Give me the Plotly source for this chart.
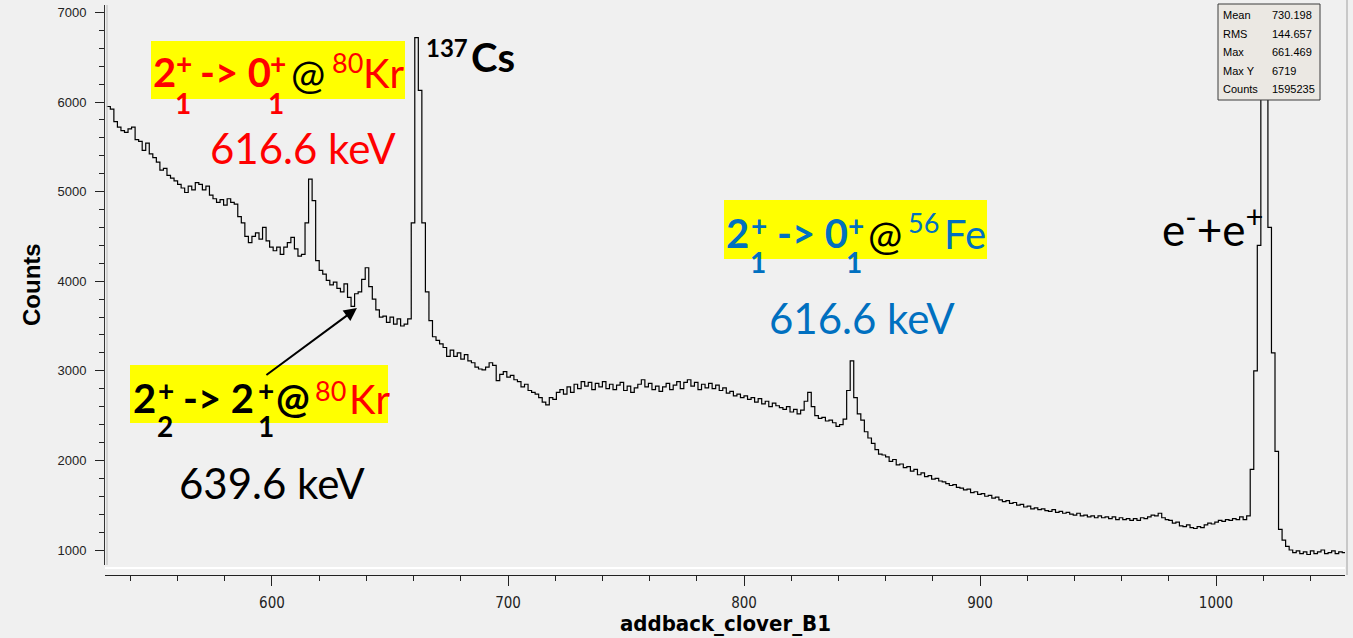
import numpy as np
import plotly.graph_objects as go

# Energy histogram of addback_clover_B1: 1.5 keV bins starting at 530 keV
bin_low = 530.0
bin_width = 1.5
counts = [
    5950, 5920, 5780, 5720, 5680, 5660, 5700, 5720, 5580, 5560,
    5460, 5540, 5420, 5380, 5330, 5240, 5260, 5180, 5150, 5120,
    5080, 5040, 4990, 5060, 5020, 5100, 5080, 5020, 5060, 4960,
    4920, 4880, 4910, 4850, 4920, 4880, 4860, 4720, 4650, 4500,
    4430, 4500, 4540, 4470, 4600, 4450, 4380, 4340, 4380, 4300,
    4380, 4430, 4490, 4360, 4280, 4300, 4650, 5140, 4900, 4230,
    4120, 4080, 4010, 3960, 3990, 3920, 3880, 3970, 3820, 3720,
    3860, 3880, 4020, 4150, 3940, 3800, 3680, 3600, 3610, 3540,
    3600, 3520, 3580, 3500, 3520, 3580, 4650, 6719, 6130, 4650,
    3880, 3560, 3380, 3340, 3300, 3260, 3160, 3230, 3160, 3200,
    3130, 3180, 3110, 3090, 3040, 3020, 3010, 3040, 3090, 3060,
    2890, 2960, 2990, 2930, 2950, 2900, 2880, 2820, 2850, 2780,
    2760, 2740, 2700, 2650, 2620, 2700, 2680, 2760, 2790, 2740,
    2820, 2760, 2850, 2800, 2880, 2830, 2870, 2790, 2860, 2820,
    2880, 2800, 2850, 2790, 2840, 2870, 2780, 2830, 2760, 2810,
    2850, 2900, 2820, 2860, 2790, 2830, 2770, 2820, 2860, 2790,
    2840, 2880, 2800, 2870, 2900, 2830, 2870, 2790, 2850, 2810,
    2860, 2800, 2840, 2780, 2810, 2750, 2770, 2720, 2740, 2700,
    2720, 2680, 2700, 2650, 2690, 2630, 2660, 2600, 2640, 2610,
    2590, 2570, 2600, 2540, 2570, 2520, 2560, 2660, 2760, 2600,
    2500, 2470, 2480, 2440, 2450, 2420, 2380, 2400, 2460, 2780,
    3110, 2700, 2520, 2450, 2320, 2250, 2190, 2120, 2070, 2060,
    2040, 1990, 2010, 1950, 1960, 1920, 1930, 1880, 1900, 1840,
    1860, 1820, 1830, 1790, 1800, 1770, 1760, 1740, 1720, 1730,
    1700, 1690, 1670, 1680, 1640, 1650, 1620, 1630, 1600, 1610,
    1580, 1590, 1560, 1540, 1550, 1520, 1530, 1500, 1510, 1480,
    1490, 1460, 1470, 1450, 1460, 1440, 1430, 1450, 1420, 1430,
    1410, 1420, 1400, 1390, 1410, 1380, 1390, 1370, 1380, 1360,
    1380, 1360, 1370, 1350, 1370, 1340, 1360, 1340, 1350, 1330,
    1350, 1330, 1360, 1350, 1370, 1390, 1380, 1410, 1360, 1340,
    1330, 1300, 1310, 1270, 1260, 1280, 1250, 1240, 1260, 1250,
    1280, 1300, 1290, 1310, 1330, 1320, 1340, 1330, 1350, 1340,
    1370, 1340, 1380, 1900, 3000, 4400, 6300, 6250, 4600, 3200,
    2100, 1230, 1110, 1040, 1000, 970, 990, 960, 980, 950,
    990, 960, 980, 1000, 960, 970, 990, 960, 980, 970, 950,
]

# Statistics panel entries
stat_names = ["Mean", "RMS", "Max", "Max Y", "Counts"]
stat_values = ["730.198", "144.657", "661.469", "6719", "1595235"]

# Peak pointed at by the arrow (keV, counts) and the arrow tail
arrow_peak_energy = 636.0
arrow_peak_counts = 3700
arrow_tail_energy = 597.0
arrow_tail_counts = 2940

x_range = [529.24, 1054.66]
y_range = [832.6, 7082.6]

edges = bin_low + bin_width * np.arange(len(counts) + 1)
steps = counts + [counts[-1]]

fig = go.Figure(
    go.Scatter(
        x=edges, y=steps, mode="lines",
        line=dict(shape="hv", color="black", width=1.2),
        hoverinfo="skip", showlegend=False,
    )
)

W, H = 1353, 638
ML, MR, MT, MB = 105, 8, 5, 63
PW, PH = W - ML - MR, H - MT - MB


def px(x):
    return (x - ML) / PW


def py(y):
    return (H - MB - y) / PH


BG = "#f0f0f0"
RED = "#ff0000"
BLUE = "#0070c0"
YELLOW = "#ffff00"
SLIDE_FONT = "Lato, Carlito, Open Sans, sans-serif"
AXIS_FONT = "Liberation Sans, Arial, sans-serif"
NARROW_FONT = "Liberation Sans Narrow, DejaVu Sans Condensed, Liberation Sans, sans-serif"


def rect(x0, y0, x1, y1, fill, line_color=None, line_width=0):
    fig.add_shape(
        type="rect", xref="paper", yref="paper",
        x0=px(x0), x1=px(x1), y0=py(y1), y1=py(y0),
        fillcolor=fill, layer="above",
        line=dict(color=line_color or fill, width=line_width),
    )


def label(text, x, y, size, color="black", bold=False, xanchor="left",
          family=SLIDE_FONT, angle=0):
    fig.add_annotation(
        text=f"<b>{text}</b>" if bold else text,
        x=px(x), y=py(y), xref="paper", yref="paper",
        xanchor=xanchor, yanchor="middle", showarrow=False, textangle=angle,
        font=dict(family=family, size=size, color=color),
    )


# Highlight boxes behind the transition labels
rect(151, 41, 405, 99, YELLOW)
rect(724, 200, 987, 259, YELLOW)
rect(130, 365, 388, 423, YELLOW)

# 2+_1 -> 0+_1 @ 80Kr
label("2", 151, 72, 40, RED, bold=True)
label("+", 174, 63, 28, RED, bold=True)
label("1", 173, 103, 28, RED, bold=True)
label("-&gt; 0", 198, 72, 40, RED, bold=True)
label("+", 268, 63, 28, RED, bold=True)
label("1", 266, 103, 28, RED, bold=True)
label("@", 289, 73, 41, "black")
label("80", 330, 63, 27, RED)
label("Kr", 361, 73, 40, RED)
label("616.6 keV", 303, 148, 42, RED, xanchor="center")

# 2+_1 -> 0+_1 @ 56Fe
label("2", 724, 233, 40, BLUE, bold=True)
label("+", 749, 225, 28, BLUE, bold=True)
label("1", 748, 262, 28, BLUE, bold=True)
label("-&gt; 0", 775, 233, 40, BLUE, bold=True)
label("+", 846, 225, 28, BLUE, bold=True)
label("1", 844, 262, 28, BLUE, bold=True)
label("@", 866, 234, 41, "black")
label("56", 906, 223, 27, BLUE)
label("Fe", 942, 234, 40, BLUE)
label("616.6 keV", 862, 318, 42, BLUE, xanchor="center")

# 2+_2 -> 2+_1 @ 80Kr
label("2", 131, 398, 40, "black", bold=True)
label("+", 156, 390, 28, "black", bold=True)
label("2", 155, 426, 28, "black", bold=True)
label("-&gt; 2", 181, 398, 40, "black", bold=True)
label("+", 256, 390, 28, "black", bold=True)
label("1", 256, 426, 28, "black", bold=True)
label("@", 274, 398, 40, "black", bold=True)
label("80", 313, 390, 27, RED)
label("Kr", 347, 399, 40, RED)
label("639.6 keV", 272, 483, 42, "black", xanchor="center")

# Other peak labels
label("137", 424, 47, 24, "black", bold=True)
label("Cs", 469, 57, 40, "black", bold=True)
label("e<sup>-</sup>+e<sup>+</sup>", 1212, 226, 44, "black", xanchor="center")

# Arrow to the 639.6 keV line
fig.add_annotation(
    x=arrow_peak_energy, y=arrow_peak_counts, xref="x", yref="y",
    ax=arrow_tail_energy, ay=arrow_tail_counts, axref="x", ayref="y",
    text="", showarrow=True, arrowhead=2, arrowsize=1.3, arrowwidth=2,
    arrowcolor="black",
)

# Statistics panel
rect(1218, 4, 1320, 100, "#ebe8e3", "#3c3c3c", 1)
for i, (name, val) in enumerate(zip(stat_names, stat_values)):
    yy = 15 + i * 18.6
    label(name, 1221, yy, 11, "black", family=AXIS_FONT)
    label(val, 1270, yy, 11, "black", family=AXIS_FONT)

# Frame edges of the canvas
fig.add_shape(type="line", xref="paper", yref="paper", x0=px(105), x1=px(1345),
              y0=py(568), y1=py(568), line=dict(color="white", width=2), layer="above")
fig.add_shape(type="line", xref="paper", yref="paper", x0=px(1347), x1=px(1347),
              y0=py(0), y1=py(575), line=dict(color="#a0a0a0", width=1), layer="above")
fig.add_shape(type="line", xref="paper", yref="paper", x0=px(107), x1=px(107),
              y0=py(5), y1=py(565), line=dict(color="#b8b8b8", width=1), layer="above")

# Axis titles
label("Counts", 31, 285, 24, "black", bold=True, xanchor="center",
      family=AXIS_FONT, angle=-90)
label("addback_clover_B1", 725, 623, 22, "black", bold=True, xanchor="center",
      family=NARROW_FONT)

fig.update_layout(
    width=W, height=H,
    margin=dict(l=ML, r=MR, t=MT, b=MB, pad=0),
    paper_bgcolor=BG, plot_bgcolor=BG,
    showlegend=False,
    xaxis=dict(
        range=x_range, domain=[0, 1], anchor="free", position=0,
        dtick=100, tick0=0, ticks="outside", ticklen=10, tickcolor="#222",
        minor=dict(dtick=20, tick0=0, ticks="outside", ticklen=5, tickcolor="#222"),
        showline=True, linecolor="#222", linewidth=1,
        showgrid=False, zeroline=False, ticklabelstandoff=4,
        tickfont=dict(family=NARROW_FONT, size=15, color="#222"),
    ),
    yaxis=dict(
        range=y_range, domain=[10 / PH, 1],
        dtick=1000, tick0=0, ticks="outside", ticklen=9, tickcolor="#222",
        minor=dict(dtick=200, tick0=0, ticks="outside", ticklen=5, tickcolor="#222"),
        showline=True, linecolor="#333", linewidth=1,
        showgrid=False, zeroline=False, ticklabelstandoff=6,
        tickfont=dict(family=AXIS_FONT, size=13, color="#222"),
    ),
)

fig.write_html("out.html")
